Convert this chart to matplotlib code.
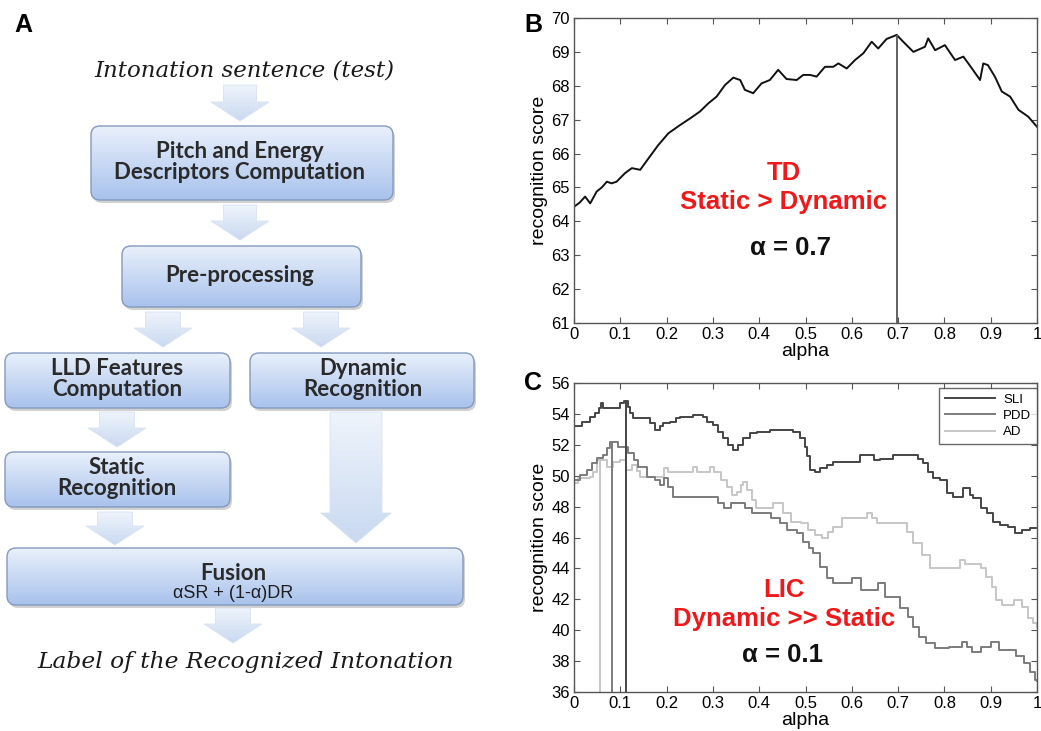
import numpy as np
import matplotlib
matplotlib.use("Agg")
import matplotlib.pyplot as plt
from matplotlib.patches import FancyBboxPatch, Polygon
from matplotlib.colors import LinearSegmentedColormap

# ---- data ----
# panel B: TD recognition score vs alpha
td_alpha = [0, 0.012, 0.024, 0.035, 0.049, 0.06, 0.071, 0.081, 0.092, 0.11,
            0.125, 0.143, 0.161, 0.182, 0.204, 0.229, 0.251, 0.272, 0.29, 0.308,
            0.326, 0.344, 0.359, 0.369, 0.387, 0.405, 0.423, 0.441, 0.459, 0.481,
            0.495, 0.51, 0.524, 0.542, 0.56, 0.571, 0.589, 0.607, 0.625, 0.643,
            0.657, 0.675, 0.697, 0.711, 0.733, 0.758, 0.765, 0.78, 0.801, 0.823,
            0.841, 0.859, 0.877, 0.884, 0.894, 0.909, 0.924, 0.942, 0.96, 0.981, 1.0]
td_score = [64.43, 64.55, 64.73, 64.53, 64.88, 65.0, 65.17, 65.12, 65.17, 65.42,
            65.57, 65.52, 65.86, 66.25, 66.6, 66.84, 67.04, 67.24, 67.48, 67.68,
            68.02, 68.24, 68.17, 67.88, 67.78, 68.07, 68.17, 68.47, 68.2, 68.17,
            68.32, 68.32, 68.27, 68.56, 68.56, 68.66, 68.51, 68.76, 68.96, 69.30,
            69.1, 69.38, 69.5, 69.30, 69.0, 69.15, 69.40, 69.05, 69.2, 68.76,
            68.86, 68.52, 68.17, 68.66, 68.61, 68.27, 67.83, 67.68, 67.29, 67.09, 66.79]
td_best = (0.697, 69.5)

# panel C: LIC groups (step curves)
sli_alpha = [0, 0.018, 0.035, 0.045, 0.053, 0.058, 0.063, 0.099, 0.107, 0.116,
             0.121, 0.128, 0.164, 0.175, 0.186, 0.193, 0.207, 0.22, 0.229, 0.258,
             0.279, 0.287, 0.301, 0.312, 0.322, 0.333, 0.344, 0.355, 0.366, 0.38,
             0.395, 0.423, 0.474, 0.488, 0.498, 0.503, 0.51, 0.52, 0.531, 0.546,
             0.56, 0.618, 0.648, 0.66, 0.69, 0.744, 0.754, 0.765, 0.776, 0.79,
             0.805, 0.819, 0.841, 0.855, 0.862, 0.88, 0.891, 0.906, 0.92, 0.938,
             0.952, 0.967, 0.985, 1.0]
sli_score = [53.2, 53.5, 53.82, 54.04, 54.36, 54.69, 54.36, 54.69, 54.86, 54.47,
             54.04, 53.71, 53.39, 52.96, 53.2, 53.39, 53.5, 53.71, 53.82, 53.93,
             53.82, 53.5, 53.28, 52.85, 52.42, 51.99, 51.67, 51.99, 52.42, 52.75,
             52.85, 52.96, 52.85, 52.42, 51.88, 51.3, 50.37, 50.26, 50.47, 50.69,
             50.9, 51.33, 51.0, 51.1, 51.33, 51.1, 50.8, 50.26, 49.83, 49.72,
             48.86, 48.64, 49.18, 48.75, 48.53, 47.89, 47.56, 47.02, 46.8, 46.7,
             46.27, 46.48, 46.59, 46.59]

pdd_alpha = [0, 0.013, 0.027, 0.038, 0.049, 0.063, 0.071, 0.078, 0.094, 0.117,
             0.13, 0.139, 0.157, 0.175, 0.186, 0.195, 0.204, 0.214, 0.312, 0.325,
             0.34, 0.37, 0.384, 0.425, 0.445, 0.459, 0.481, 0.495, 0.508, 0.517,
             0.531, 0.546, 0.56, 0.6, 0.62, 0.657, 0.672, 0.705, 0.722, 0.733,
             0.745, 0.76, 0.78, 0.81, 0.838, 0.848, 0.86, 0.878, 0.9, 0.918,
             0.955, 0.972, 0.985, 0.995, 1.0]
pdd_score = [49.72, 50.04, 50.37, 50.8, 51.13, 51.34, 51.77, 52.2, 51.88, 51.45,
             51.02, 50.58, 49.94, 49.72, 49.4, 49.83, 49.29, 48.64, 48.21, 47.89,
             48.21, 47.89, 47.57, 47.24, 46.92, 46.49, 46.27, 45.73, 45.3, 44.98,
             44.11, 43.36, 43.03, 43.36, 42.6, 43.03, 42.17, 41.42, 40.87, 40.23,
             39.58, 39.15, 38.83, 38.93, 39.26, 38.93, 38.61, 38.93, 39.26, 38.7,
             38.3, 37.9, 37.3, 36.8, 36.7]

ad_alpha = [0, 0.009, 0.035, 0.042, 0.049, 0.071, 0.085, 0.099, 0.113, 0.125,
            0.135, 0.143, 0.195, 0.204, 0.258, 0.265, 0.294, 0.302, 0.318, 0.33,
            0.342, 0.352, 0.36, 0.366, 0.374, 0.384, 0.393, 0.43, 0.452, 0.468,
            0.49, 0.506, 0.52, 0.535, 0.549, 0.56, 0.578, 0.632, 0.643, 0.654,
            0.72, 0.733, 0.752, 0.768, 0.834, 0.845, 0.88, 0.89, 0.902, 0.912,
            0.925, 0.95, 0.968, 0.98, 0.992, 1.0]
ad_score = [49.51, 49.83, 49.94, 50.26, 51.02, 50.58, 50.9, 51.02, 50.37, 50.69,
            50.3, 49.94, 50.48, 50.26, 50.54, 50.26, 50.54, 50.26, 49.72, 49.29,
            48.75, 48.97, 49.4, 49.61, 49.07, 48.43, 47.89, 48.21, 47.57, 47.02,
            46.92, 46.49, 46.16, 45.95, 46.38, 46.7, 47.24, 47.56, 47.24, 46.92,
            46.38, 45.62, 44.87, 44.01, 44.54, 44.3, 44.01, 43.46, 42.82, 41.95,
            41.6, 41.95, 41.5, 40.8, 40.45, 40.2]

lic_groups = ["SLI", "PDD", "AD"]
lic_best = [(0.113, 54.86), (0.083, 52.2), (0.057, 51.02)]

x_ticks = [0, 0.1, 0.2, 0.3, 0.4, 0.5, 0.6, 0.7, 0.8, 0.9, 1]
x_ticklabels = ["0", "0.1", "0.2", "0.3", "0.4", "0.5", "0.6", "0.7", "0.8", "0.9", "1"]

# flowchart text
flow_in = "Intonation sentence (test)"
flow_out = "Label of the Recognized Intonation"
flow_boxes = ["Pitch and Energy\nDescriptors Computation", "Pre-processing",
              "LLD Features\nComputation", "Dynamic\nRecognition",
              "Static\nRecognition", "Fusion"]
fusion_rule = "αSR + (1-α)DR"

# ---- figure ----
W, H = 1041, 731
fig = plt.figure(figsize=(W / 100, H / 100), dpi=100)
SANS = "Liberation Sans"


def fxy(x, y):
    return x / W, 1 - y / H


# panel A: flowchart, drawn in pixel units
axA = fig.add_axes([0, 0, 480 / W, 1])
axA.set_xlim(0, 480)
axA.set_ylim(H, 0)
axA.axis("off")

box_cmap = LinearSegmentedColormap.from_list("box", ["#e9f0fb", "#a8c2ec"])
arr_cmap = LinearSegmentedColormap.from_list("arr", ["#eff4fb", "#c9d9f1"])
grad = np.linspace(0, 1, 256)[:, None]


def grad_box(x0, y0, x1, y1):
    sh = FancyBboxPatch((x0 + 2, y0 + 3), x1 - x0, y1 - y0,
                        boxstyle="round,pad=0,rounding_size=9",
                        fc="#9a9a9a", ec="none", alpha=0.45, zorder=1)
    axA.add_patch(sh)
    p = FancyBboxPatch((x0, y0), x1 - x0, y1 - y0,
                       boxstyle="round,pad=0,rounding_size=9",
                       fc="none", ec="#8499bd", lw=1.0, zorder=3)
    axA.add_patch(p)
    im = axA.imshow(grad, cmap=box_cmap, extent=(x0, x1, y1, y0),
                    aspect="auto", zorder=2)
    im.set_clip_path(p)


def grad_arrow(cx, y0, y1, sw, hw, hl):
    yh = y1 - hl
    pts = [(cx - sw / 2, y0), (cx + sw / 2, y0), (cx + sw / 2, yh),
           (cx + hw / 2, yh), (cx, y1), (cx - hw / 2, yh), (cx - sw / 2, yh)]
    p = Polygon(pts, closed=True, fc="none", ec="#d8e2f3", lw=0.6, zorder=3)
    axA.add_patch(p)
    im = axA.imshow(grad, cmap=arr_cmap, extent=(cx - hw / 2, cx + hw / 2, y1, y0),
                    aspect="auto", zorder=2)
    im.set_clip_path(p)


arrows = [(240, 85, 121, 33, 58, 19), (240, 205, 240, 33, 58, 19),
          (163, 312, 347, 35, 58, 19), (321, 312, 347, 35, 58, 19),
          (117, 412, 447, 35, 58, 19), (115, 512, 545, 35, 58, 19),
          (356, 412, 543, 52, 70, 30), (233, 608, 643, 35, 58, 19)]
for a in arrows:
    grad_arrow(*a)

box_rects = [(91, 126, 393, 200), (122, 246, 361, 307), (5, 353, 230, 408),
             (250, 353, 474, 408), (5, 452, 230, 507), (7, 548, 463, 605)]
box_text_pos = [(240, 162), (240, 275), (117, 379), (363, 379), (117, 478), (233, 573)]
for rect, label, pos in zip(box_rects, flow_boxes, box_text_pos):
    grad_box(*rect)
    axA.text(pos[0], pos[1], label, ha="center", va="center", fontsize=16,
             fontfamily="Lato", fontweight="bold", color="#2a2a2a",
             linespacing=0.95, zorder=5)
axA.text(233, 594, fusion_rule, ha="center", va="center", fontsize=13,
         fontfamily=SANS, color="#1e1e1e", zorder=5)

axA.text(244, 70, flow_in, ha="center", va="center", fontsize=16.5,
         fontfamily="DejaVu Serif", style="italic", color="#1a1a1a")
axA.text(246, 662, flow_out, ha="center", va="center", fontsize=16.8,
         fontfamily="DejaVu Serif", style="italic", color="#1a1a1a")


def style_axes(ax, ylo, yhi, ystep):
    ax.set_xlim(0, 1)
    ax.set_ylim(ylo, yhi)
    ax.set_xticks(x_ticks)
    ax.set_xticklabels(x_ticklabels)
    ax.set_yticks(np.arange(ylo, yhi + 0.1, ystep))
    ax.tick_params(direction="in", top=True, right=True, length=4, width=0.8,
                   color="#555555", labelsize=12, pad=3)
    for lab in ax.get_xticklabels() + ax.get_yticklabels():
        lab.set_fontfamily(SANS)
    for s in ax.spines.values():
        s.set_color("#555555")
        s.set_linewidth(1.0)
    ax.set_xlabel("alpha", fontsize=14, fontfamily=SANS, labelpad=0.5)
    ax.set_ylabel("recognition score", fontsize=14, fontfamily=SANS, labelpad=2)


# panel B
axB = fig.add_axes([574 / W, 1 - 323 / H, 463 / W, 305 / H])
axB.plot(td_alpha, td_score, color="#111111", lw=1.4)
axB.vlines(td_best[0], 61, td_best[1], color="#555555", lw=1.3)
style_axes(axB, 61, 70, 1)

# panel C
axC = fig.add_axes([574 / W, 1 - 692 / H, 463 / W, 309 / H])
colors = ["#454545", "#7c7c7c", "#c6c6c6"]
series = [(sli_alpha, sli_score), (pdd_alpha, pdd_score), (ad_alpha, ad_score)]
for (xs, ys), name, c in zip(series[::-1], lic_groups[::-1], colors[::-1]):
    axC.plot(xs, ys, drawstyle="steps-post", color=c, lw=1.4, label=name)
for (bx, by), c in zip(lic_best, colors):
    axC.vlines(bx, 36, by, color=c, lw=1.4)
style_axes(axC, 36, 56, 2)
h, l = axC.get_legend_handles_labels()
leg = axC.legend(h[::-1], l[::-1], loc="upper right", bbox_to_anchor=(1.0, 0.985),
                 borderaxespad=0, fancybox=False, edgecolor="#444444",
                 handlelength=3.8, handletextpad=0.6, labelspacing=0.3,
                 borderpad=0.45, prop={"family": SANS, "size": 9.5})
leg.get_frame().set_linewidth(1.0)

# annotations
red = "#f01818"
for (x, y), txt, c in [((784, 173), "TD", red), ((784, 202), "Static > Dynamic", red),
                       ((790, 248), "α = 0.7", "#111111"),
                       ((784, 590), "LIC", red), ((784, 619), "Dynamic >> Static", red),
                       ((783, 655), "α = 0.1", "#111111")]:
    fig.text(*fxy(x, y), txt, ha="center", va="center", fontsize=18.5,
             fontfamily=SANS, fontweight="bold", color=c)

for (x, y), t in [((23, 25), "A"), ((533, 25), "B"), ((533, 383), "C")]:
    fig.text(*fxy(x, y), t, ha="center", va="center", fontsize=18,
             fontfamily=SANS, fontweight="bold")

fig.savefig("out.png", dpi=100)
